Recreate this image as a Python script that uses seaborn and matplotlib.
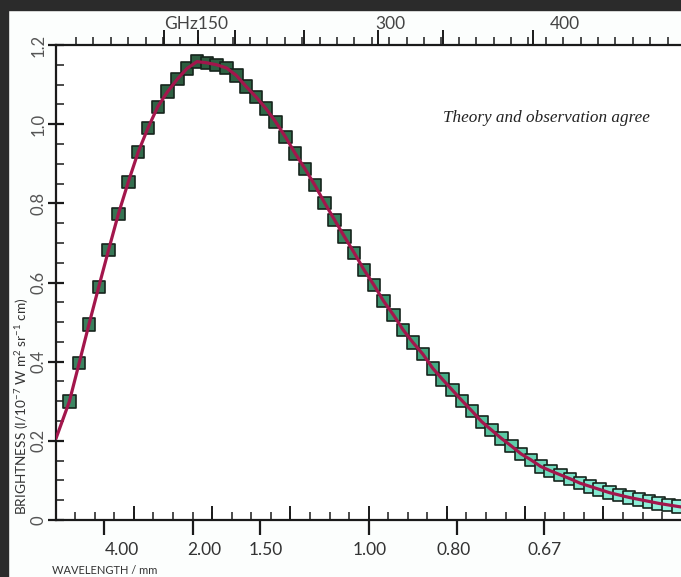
import numpy as np
import pandas as pd
import matplotlib
matplotlib.use('Agg')
import matplotlib.pyplot as plt
import seaborn as sns
from matplotlib.colors import LinearSegmentedColormap
from matplotlib.patches import Rectangle

# measured spectrum (frequency in GHz, brightness in 1e-7 W m^-2 sr^-1 cm)
freq_ghz = [43.7, 52.1, 60.5, 68.9, 77.3, 85.7, 94.2, 102.6, 111.0, 119.4,
            127.8, 136.2, 144.6, 153.0, 161.4, 169.8, 178.3, 186.7, 195.1, 203.5,
            211.9, 220.3, 228.7, 237.1, 245.5, 253.9, 262.3, 270.8, 279.2, 287.6,
            296.0, 304.4, 312.8, 321.2, 329.6, 338.0, 346.4, 354.9, 363.3, 371.7,
            380.1, 388.5, 396.9, 405.3, 413.7, 422.1, 430.5, 438.9, 447.4, 455.8,
            464.2, 472.6, 481.0, 489.4, 497.8, 506.2, 514.6, 523.0, 531.4, 539.9,
            548.3, 556.7, 565.1]
brightness = [0.299, 0.396, 0.494, 0.589, 0.682, 0.773, 0.854, 0.929, 0.990, 1.044,
              1.082, 1.114, 1.141, 1.158, 1.155, 1.150, 1.142, 1.123, 1.095, 1.069,
              1.040, 1.006, 0.968, 0.926, 0.887, 0.846, 0.801, 0.758, 0.716, 0.675,
              0.632, 0.594, 0.553, 0.518, 0.480, 0.448, 0.419, 0.383, 0.355, 0.328,
              0.301, 0.275, 0.248, 0.227, 0.206, 0.187, 0.167, 0.152, 0.135, 0.124,
              0.114, 0.104, 0.093, 0.085, 0.077, 0.069, 0.063, 0.057, 0.052, 0.047,
              0.042, 0.038, 0.034]

# theory curve
theory_freq = [32.3] + freq_ghz + [567.4]
theory_brightness = [0.206] + brightness + [0.033]

# axis labelling
wl_ticks = [73.6, 150.0, 206.9, 300.0, 375.2, 449.7]
wl_label_pos = [88.8, 159.0, 212.1, 301.1, 373.0, 450.9]
wl_labels = ['4.00', '2.00', '1.50', '1.00', '0.80', '0.67']
ghz_ticks = [152.2, 318.2, 468.1]
ghz_labels = ['GHz150', '300', '400']
ghz_long_ticks = [124.7, 153.9, 185.6, 244.6, 308.0, 363.6, 440.6]
y_ticks = [0, 0.2, 0.4, 0.6, 0.8, 1.0, 1.2]
y_labels = ['0', '0.2', '0.4', '0.6', '0.8', '1.0', '1.2']

W, H = 681, 577
INK = '#1a1a1a'


def main():
    sns.set_style('ticks')
    plt.rcParams['font.family'] = ['Lato', 'DejaVu Sans']
    plt.rcParams['mathtext.default'] = 'regular'

    fig = plt.figure(figsize=(W / 100, H / 100), dpi=100)
    fig.patch.set_facecolor('#fcfefd')
    # dark frame of the screenshot
    fig.add_artist(Rectangle((0, 0), 8 / W, 1, transform=fig.transFigure,
                             color='#2b2b2b', zorder=10))
    fig.add_artist(Rectangle((0, 1 - 10 / H), 1, 10 / H, transform=fig.transFigure,
                             color='#2b2b2b', zorder=10))

    ax = fig.add_axes([56 / W, 57 / H, 625 / W, 475 / H])
    ax.set_facecolor('white')

    df = pd.DataFrame({'freq': freq_ghz, 'brightness': brightness})
    cmap = LinearSegmentedColormap.from_list('cobe', [
        (0.0, '#3f8a66'), (0.2, '#2d5b3e'), (0.35, '#2f6a48'),
        (0.55, '#3a9b73'), (0.72, '#5ccaa6'), (0.85, '#80e8cf'), (1.0, '#98f4e0')])
    sns.scatterplot(data=df, x='freq', y='brightness', hue='freq', palette=cmap,
                    hue_norm=(32.3, 567.4), marker='s', s=80,
                    edgecolor='#16241c', linewidth=1.2, legend=False, ax=ax, zorder=2)
    sns.lineplot(x=theory_freq, y=theory_brightness, color='#a3164c', lw=2.3,
                 ax=ax, zorder=3, sort=False)

    ax.set_xlim(32.3, 567.4)
    ax.set_ylim(0, 1.2)
    ax.set_xlabel('')
    ax.set_ylabel('')

    for side in ['left', 'bottom', 'top']:
        ax.spines[side].set_color(INK)
        ax.spines[side].set_linewidth(1.6)
    ax.spines['right'].set_visible(False)

    # bottom: wavelength
    ax.set_xticks(wl_ticks, [''] * len(wl_ticks))
    ax.set_xticks(np.arange(48.75, 567, 16.75), minor=True)
    ax.tick_params(axis='x', which='major', bottom=True, top=False, direction='out',
                   length=11, width=1.6, color=INK)
    ax.tick_params(axis='x', which='minor', bottom=True, top=False, direction='in',
                   length=6, width=1.1, color=INK)
    mid = ax.secondary_xaxis('bottom')
    mid.set_xticks(np.arange(99.0, 567, 67.0), [''] * 7)
    mid.tick_params(direction='in', length=10, width=1.4, color=INK)
    mid.spines['bottom'].set_visible(False)
    wl = ax.secondary_xaxis('bottom')
    wl.set_xticks(wl_label_pos, wl_labels)
    wl.tick_params(length=0, pad=16, labelsize=12.5, labelcolor='#333333')
    wl.spines['bottom'].set_visible(False)

    # left: brightness
    ax.set_yticks(y_ticks, y_labels)
    ax.set_yticks(np.arange(0, 1.201, 0.05), minor=True)
    ax.tick_params(axis='y', which='major', left=True, right=False, direction='inout',
                   length=12, width=1.6, labelsize=12, labelcolor='#555555',
                   labelrotation=90, pad=1, color=INK)
    ax.tick_params(axis='y', which='minor', left=True, right=False, direction='in',
                   length=6, width=1.1, color=INK)
    plt.setp(ax.get_yticklabels(), va='center')

    # top: frequency
    top = ax.secondary_xaxis('top')
    top.set_xticks(ghz_ticks, ghz_labels)
    top.set_xticks(np.arange(49.4, 567, 14.9), minor=True)
    top.tick_params(which='major', length=0, pad=9, labelsize=12.5,
                    labelcolor='#444444')
    top.tick_params(which='minor', direction='out', length=6, width=1.1, color=INK)
    top.spines['top'].set_visible(False)
    top_long = ax.secondary_xaxis('top')
    top_long.set_xticks(ghz_long_ticks, [''] * len(ghz_long_ticks))
    top_long.tick_params(direction='out', length=11, width=1.4, color=INK)
    top_long.spines['top'].set_visible(False)

    ax.text(363.6, 1.016, 'Theory and observation agree', ha='left', va='center',
            family='Liberation Serif', style='italic', fontsize=12.3, color='#222222')

    fig.text(22 / W, 62 / H, 'BRIGHTNESS (I/10$^{-7}$ W m$^{2}$ sr$^{-1}$ cm)',
             rotation=90, ha='center', va='bottom', fontsize=9.8, color='#333333')
    fig.text(52 / W, 1 - 570 / H, 'WAVELENGTH / mm', ha='left', va='center',
             fontsize=8, color='#333333')

    fig.savefig('out.png', dpi=100, facecolor=fig.get_facecolor())


if __name__ == '__main__':
    main()
